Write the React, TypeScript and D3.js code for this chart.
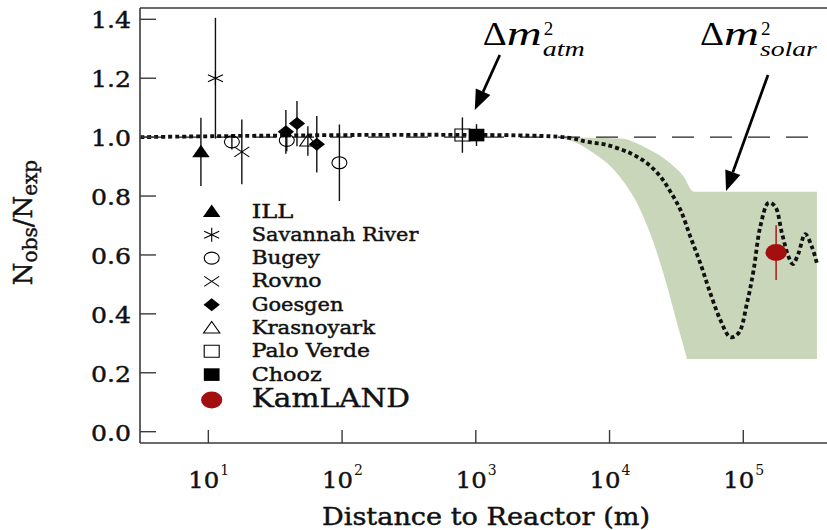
import React from 'react';
import * as d3 from 'd3';

// ---------------- data ----------------
const yTicks = [0, 0.2, 0.4, 0.6, 0.8, 1.0, 1.2, 1.4];
const yTickLabels = ['0.0', '0.2', '0.4', '0.6', '0.8', '1.0', '1.2', '1.4'];
const xTickExponents = [1, 2, 3, 4, 5];

const ILL = [{ d: 8.8, r: 0.95, e: 0.116 }];
const SavannahRiver = [{ d: 11.3, r: 1.2, e: 0.205 }];
const Bugey = [
  { d: 15, r: 0.984, e: 0.026 },
  { d: 38.6, r: 0.989, e: 0.037 },
  { d: 95.5, r: 0.913, e: 0.13 },
];
const Rovno = [{ d: 17.8, r: 0.95, e: 0.11 }];
const Goesgen = [
  { d: 38, r: 1.018, e: 0.074 },
  { d: 46, r: 1.046, e: 0.077 },
  { d: 64.7, r: 0.976, e: 0.096 },
];
const Krasnoyark = [{ d: 55.5, r: 0.987, e: 0.05 }];
const PaloVerde = [{ d: 794, r: 1.007, e: 0.06 }];
const Chooz = [{ d: 1012, r: 1.007, e: 0.037 }];
const KamLAND = [{ d: 176000, r: 0.608, e: 0.093 }];

const legendNames = ['ILL', 'Savannah River', 'Bugey', 'Rovno', 'Goesgen', 'Krasnoyark', 'Palo Verde', 'Chooz', 'KamLAND'];

// oscillation curve (distance m, ratio)
const curveDist = [3.1, 4540, 6820, 9620, 14350, 19100, 24000, 28500, 33900, 40200, 47700, 56700, 67300, 80000, 92300, 106600, 119500, 134000, 154500, 173300, 194500, 218000, 235000, 258700, 290400, 325600, 355000];
const curveRatio = [1.0, 1.0, 0.984, 0.973, 0.945, 0.911, 0.866, 0.815, 0.753, 0.662, 0.572, 0.47, 0.38, 0.321, 0.335, 0.436, 0.549, 0.696, 0.777, 0.764, 0.674, 0.594, 0.569, 0.606, 0.671, 0.628, 0.572];

// allowed band
const bandUpperDist = [3840, 12100, 19100, 28500, 35800, 42500, 355600];
const bandUpperRatio = [1.0, 0.995, 0.961, 0.911, 0.866, 0.815, 0.815];
const bandLowerDist = [3840, 5410, 7640, 10200, 13500, 17000, 21400, 27000, 32000, 38000];
const bandLowerRatio = [1.0, 0.984, 0.945, 0.9, 0.832, 0.753, 0.64, 0.493, 0.368, 0.247];
const bandBottomRatio = 0.247;

// annotations: tail / tip in data coords
const annotSub = ['atm', 'solar'];
const annotTextDist = [1128, 47400];
const annotTailDist = [1511, 153000];
const annotTailRatio = [1.279, 1.211];
const annotTipDist = [983, 74300];
const annotTipRatio = [1.092, 0.817];

// ---------------- layout ----------------
const W = 827;
const H = 530;
const FONT = "'DejaVu Serif', serif";
const ANNOT_FONT = "'Liberation Serif', 'Times New Roman', serif";
const legendWidths = [41.6, 166.7, 68.3, 70, 91.7, 123.3, 118.3, 70, 158.3];
const subWidths = [42, 57];
const TXT = '#111';
const bold = { stroke: TXT, strokeWidth: 0.45 };

type MType = 'triFill' | 'asterisk' | 'circle' | 'cross' | 'diamond' | 'triOpen' | 'squareOpen' | 'squareFill' | 'kam';
const legendTypes: MType[] = ['triFill', 'asterisk', 'circle', 'cross', 'diamond', 'triOpen', 'squareOpen', 'squareFill', 'kam'];

function Marker({ type, cx, cy }: { type: MType; cx: number; cy: number }) {
  const t = `translate(${cx},${cy}) scale(1.25,1)`;
  const ns = { vectorEffect: 'non-scaling-stroke' as any };
  switch (type) {
    case 'triFill':
      return <polygon transform={t} points="0,-7 7,5.5 -7,5.5" fill="#000" />;
    case 'asterisk':
      return (
        <g transform={t} stroke="#000" strokeWidth={1.1}>
          <line x1={0} y1={-7} x2={0} y2={7} {...ns} />
          <line x1={-6} y1={-3.5} x2={6} y2={3.5} {...ns} />
          <line x1={-6} y1={3.5} x2={6} y2={-3.5} {...ns} />
        </g>
      );
    case 'circle':
      return <ellipse transform={t} rx={6} ry={6} fill="none" stroke="#000" strokeWidth={1.1} {...ns} />;
    case 'cross':
      return (
        <g transform={t} stroke="#000" strokeWidth={1.1}>
          <line x1={-6} y1={-5} x2={6} y2={5} {...ns} />
          <line x1={-6} y1={5} x2={6} y2={-5} {...ns} />
        </g>
      );
    case 'diamond':
      return <polygon transform={t} points="0,-6.5 6.5,0 0,6.5 -6.5,0" fill="#000" />;
    case 'triOpen':
      return <polygon transform={t} points="0,-6.5 6.5,5 -6.5,5" fill="none" stroke="#000" strokeWidth={1.1} {...ns} />;
    case 'squareOpen':
      return <rect transform={t} x={-6} y={-6} width={12} height={12} fill="none" stroke="#000" strokeWidth={1.1} {...ns} />;
    case 'squareFill':
      return <rect transform={t} x={-6.3} y={-6.3} width={12.6} height={12.6} fill="#000" />;
    case 'kam':
      return <ellipse transform={t} rx={8.5} ry={8.5} fill="#a30f0f" />;
  }
  return null;
}

export default function App() {
  const x = d3.scaleLog().domain([Math.pow(10, 0.489), Math.pow(10, 5.626)]).range([140, 827]);
  const y = d3.scaleLinear().domain([-0.0384, 1.4384]).range([443, 8]);

  const curvePts: [number, number][] = curveDist.map((d, i) => [x(d), y(curveRatio[i])]);
  const curvePath = d3.line().curve(d3.curveCatmullRom.alpha(0.5))(curvePts) || '';

  // band: region under the upper boundary, minus the region left of the lower boundary
  const upperPts: [number, number][] = bandUpperDist.map((d, i) => [x(d), y(bandUpperRatio[i])]);
  const upperPath = d3.line().curve(d3.curveMonotoneX)(upperPts) || '';
  const xr = x(bandUpperDist[bandUpperDist.length - 1]);
  const xl = x(bandUpperDist[0]);
  const yb = y(bandBottomRatio);
  const bandOuter = `${upperPath}L${xr},${yb}L${xl},${yb}Z`;
  const lowerPts: [number, number][] = bandLowerDist.map((d, i) => [x(d), y(bandLowerRatio[i])]);
  const lowerPath = d3.line().curve(d3.curveMonotoneX)(lowerPts) || '';
  const bandCut = `${lowerPath}L${xl - 2},${yb + 1}L${xl - 2},${y(1) - 1}Z`;

  const series: { data: { d: number; r: number; e: number }[]; type: MType }[] = [
    { data: ILL, type: 'triFill' },
    { data: SavannahRiver, type: 'asterisk' },
    { data: Bugey, type: 'circle' },
    { data: Rovno, type: 'cross' },
    { data: Goesgen, type: 'diamond' },
    { data: Krasnoyark, type: 'triOpen' },
    { data: PaloVerde, type: 'squareOpen' },
    { data: Chooz, type: 'squareFill' },
  ];

  const axisColor = '#3a3a3a';

  const arrow = (x1: number, y1: number, x2: number, y2: number, key: string) => {
    const ang = Math.atan2(y2 - y1, x2 - x1);
    const len = 20;
    const hw = 8;
    const bx = x2 - len * Math.cos(ang);
    const by = y2 - len * Math.sin(ang);
    const px = -Math.sin(ang);
    const py = Math.cos(ang);
    return (
      <g key={key}>
        <line x1={x1} y1={y1} x2={bx} y2={by} stroke="#000" strokeWidth={2.7} />
        <polygon points={`${x2},${y2} ${bx + px * hw},${by + py * hw} ${bx - px * hw},${by - py * hw}`} fill="#000" />
      </g>
    );
  };

  return (
    <svg width={W} height={H} style={{ position: 'absolute', left: 0, top: 0, background: '#fff' }} fontFamily={FONT}>
      <rect x={0} y={0} width={W} height={H} fill="#fff" />
      {/* allowed band */}
      <path d={bandOuter} fill="#c9d6ba" stroke="none" />
      <path d={bandCut} fill="#fff" stroke="none" />

      {/* reference dashed line at 1 */}
      <line x1={140} x2={x(355600)} y1={y(1)} y2={y(1)} stroke="#222" strokeWidth={1.4} strokeDasharray="22 16" />

      {/* oscillation curve */}
      <path d={curvePath} fill="none" stroke="#111" strokeWidth={3.8} strokeDasharray="4 3" />

      {/* axes */}
      <line x1={140} x2={827} y1={8} y2={8} stroke={axisColor} strokeWidth={1.6} />
      <line x1={140} x2={140} y1={8} y2={443} stroke={axisColor} strokeWidth={1.6} />
      <line x1={140} x2={827} y1={443} y2={443} stroke={axisColor} strokeWidth={1.6} />
      {yTicks.map((t, i) => (
        <g key={'yt' + i}>
          <line x1={140} x2={156} y1={y(t)} y2={y(t)} stroke={axisColor} strokeWidth={1.4} />
          <text x={131} y={y(t) + 9} textAnchor="end" fontSize={23} fill={TXT} {...bold} textLength={40} lengthAdjust="spacingAndGlyphs">
            {yTickLabels[i]}
          </text>
        </g>
      ))}
      {xTickExponents.map((e) => {
        const px = x(Math.pow(10, e));
        return (
          <g key={'xt' + e}>
            <line x1={px} x2={px} y1={430} y2={443} stroke={axisColor} strokeWidth={1.4} />
            <text x={px - 20} y={488} fontSize={23} fill={TXT} {...bold} textLength={31} lengthAdjust="spacingAndGlyphs">10</text>
            <text x={px + 12} y={475} fontSize={14} fill={TXT}>{e}</text>
          </g>
        );
      })}

      {/* axis titles */}
      <text x={322} y={525} fontSize={24} fill={TXT} {...bold} textLength={328} lengthAdjust="spacingAndGlyphs">
        Distance to Reactor (m)
      </text>
      <text transform="translate(31.7,222.5) rotate(-90)" textAnchor="middle" fontSize={26} fill={TXT} {...bold}>
        N<tspan fontSize={20} dy={5}>obs</tspan>
        <tspan dy={-5}>/N</tspan>
        <tspan fontSize={20} dy={5}>exp</tspan>
      </text>

      {/* error bars */}
      {series.map((s, si) =>
        s.data.map((p, pi) => (
          <line key={`e${si}-${pi}`} x1={x(p.d)} x2={x(p.d)} y1={y(p.r + p.e)} y2={y(p.r - p.e)} stroke="#111" strokeWidth={1.4} />
        ))
      )}
      {/* markers */}
      {series.map((s, si) =>
        s.data.map((p, pi) => <Marker key={`m${si}-${pi}`} type={s.type} cx={x(p.d)} cy={y(p.r)} />)
      )}
      {/* KamLAND */}
      {KamLAND.map((p, i) => (
        <g key={'k' + i}>
          <line x1={x(p.d)} x2={x(p.d)} y1={y(p.r + p.e)} y2={y(p.r - p.e)} stroke="#a30f0f" strokeWidth={1.4} />
          <Marker type="kam" cx={x(p.d)} cy={y(p.r)} />
        </g>
      ))}

      {/* legend */}
      {legendNames.map((n, i) => {
        const base = i < 8 ? 217.5 + 23.3 * i : 407;
        return (
          <g key={'lg' + i}>
            <Marker type={legendTypes[i]} cx={211.7} cy={base - (i < 8 ? 6 : 7)} />
            <text x={251.7} y={base} fontSize={i < 8 ? 19 : 26} fill={TXT} {...bold} textLength={legendWidths[i]} lengthAdjust="spacingAndGlyphs">
              {n}
            </text>
          </g>
        );
      })}

      {/* annotations */}
      {annotSub.map((sub, i) => {
        const tx = x(annotTextDist[i]);
        return (
          <g key={'an' + i} fontFamily={ANNOT_FONT}>
            <text x={tx} y={45} fontSize={33} fill="#000" textLength={24} lengthAdjust="spacingAndGlyphs">Δ</text>
            <text x={tx + 24} y={45} fontSize={34} fontStyle="italic" fill="#000" textLength={35} lengthAdjust="spacingAndGlyphs">m</text>
            <text x={tx + 61} y={35} fontSize={19} fill="#000">2</text>
            <text x={tx + 60} y={56} fontSize={20} fontStyle="italic" fill="#000" textLength={subWidths[i]} lengthAdjust="spacingAndGlyphs">{sub}</text>
            {arrow(x(annotTailDist[i]), y(annotTailRatio[i]), x(annotTipDist[i]), y(annotTipRatio[i]), 'ar' + i)}
          </g>
        );
      })}
    </svg>
  );
}
